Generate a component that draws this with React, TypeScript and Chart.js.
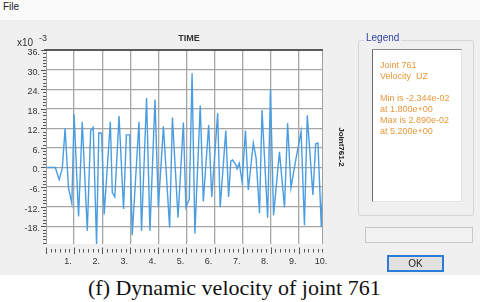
import { useEffect, useRef } from "react";
import { Chart, registerables } from "chart.js";

Chart.register(...registerables);

// Time (s) of each vertex
const times = [
  0, 0.33, 0.47, 0.58, 0.68, 0.8, 0.92, 1.0, 1.16, 1.29, 1.47, 1.59, 1.68, 1.8, 1.88, 1.98,
  2.07, 2.29, 2.36, 2.45, 2.6, 2.76, 2.86, 2.98, 3.07, 3.31, 3.4, 3.58, 3.7, 3.88, 4.0,
  4.18, 4.4, 4.5, 4.7, 4.89, 4.98, 5.1, 5.2, 5.3, 5.49, 5.6, 5.79, 5.9, 6.11, 6.2, 6.4,
  6.5, 6.58, 6.64, 6.76, 6.8, 6.88, 6.98, 7.1, 7.2, 7.38, 7.48, 7.6, 7.69, 7.89, 7.99,
  8.1, 8.31, 8.49, 8.6, 8.72, 8.9, 9.08, 9.2, 9.3, 9.5, 9.6, 9.68, 9.8, 9.86,
];
// Velocity UZ (x10^-3)
const velocity = [
  0, 0, -3.7, -0.2, 12.0, -6.2, -11.0, 16.3, -15.0, 14.0, -19.4, 11.3, 12.3, -23.44, 10.6, 10.5,
  -14.4, 14.0, -7.7, -9.0, 15.8, -12.7, 10.0, 10.0, -20.7, 14.0, -19.4, 21.3, -19.4, 20.8, -12.2,
  12.6, -18.4, 15.3, -15.4, 13.8, -12.2, -9.7, 28.9, -20.2, 19.0, -10.4, 13.0, -9.0, 16.6, -12.2, 11.3,
  -9.0, 2.0, 2.3, 0.8, -0.4, 1.3, -4.4, 11.3, -6.9, 7.5, 2.8, -14.0, 17.6, -15.4, 24.0,
  -14.6, 4.8, -12.2, 13.6, -6.2, 2.8, 11.0, -17.7, 16.0, -8.4, 7.3, 7.5, -18.2, -3.0,
];

const xTickValues = [1, 2, 3, 4, 5, 6, 7, 8, 9, 10];
const yTickValues = [-18, -12, -6, 0, 6, 12, 18, 24, 30, 36];
const xMin = 0;
const xMax = 9.86;
const yMin = -23.44;
const yMax = 36;

const legendLines = [
  "Joint 761",
  "Velocity  UZ",
  "",
  "Min is -2.344e-02",
  "at 1.800e+00",
  "Max is 2.890e-02",
  "at 5.200e+00",
];

const FONT = '"Liberation Sans", Arial, sans-serif';

const framePlugin = {
  id: "frame",
  beforeDraw(chart: any) {
    const { ctx, chartArea: a } = chart;
    ctx.save();
    ctx.fillStyle = "#ffffff";
    ctx.fillRect(a.left, a.top, a.right - a.left, a.bottom - a.top);
    ctx.restore();
  },
  afterDraw(chart: any) {
    const { ctx, chartArea: a, scales } = chart;
    const xs = scales.x;
    const ys = scales.y;
    ctx.save();
    ctx.strokeStyle = "#a0a0a0";
    ctx.lineWidth = 1;
    ctx.beginPath();
    ctx.moveTo(a.left + 0.5, a.top);
    ctx.lineTo(a.left + 0.5, a.bottom);
    ctx.moveTo(a.right - 0.5, a.top);
    ctx.lineTo(a.right - 0.5, a.bottom);
    ctx.stroke();

    ctx.strokeStyle = "#5a5a5a";
    ctx.lineWidth = 2;
    ctx.beginPath();
    ctx.moveTo(a.left - 2, a.top);
    ctx.lineTo(a.right, a.top);
    ctx.stroke();

    ctx.strokeStyle = "#555555";
    ctx.lineWidth = 1;
    ctx.beginPath();
    for (let k = 0; k <= 60; k++) {
      const px = Math.round(xs.getPixelForValue(k / 6)) + 0.5;
      if (px > a.right) break;
      const major = k % 6 === 0;
      ctx.moveTo(px, a.bottom + (major ? 3.5 : 5));
      ctx.lineTo(px, a.bottom + (major ? 10 : 8.5));
    }
    for (let v = Math.ceil(yMin); v <= yMax; v++) {
      const py = Math.round(ys.getPixelForValue(v)) + 0.5;
      const major = v % 6 === 0;
      ctx.moveTo(a.left - (major ? 5 : 3), py);
      ctx.lineTo(a.left, py);
    }
    ctx.stroke();
    ctx.restore();
  },
};

export default function App() {
  const canvasRef = useRef<HTMLCanvasElement | null>(null);

  useEffect(() => {
    document.body.style.margin = "0";
    const canvas = canvasRef.current;
    if (!canvas) return;
    const chart = new Chart(canvas, {
      type: "line",
      data: {
        datasets: [
          {
            data: times.map((t, i) => ({ x: t, y: velocity[i] })),
            borderColor: "#4b9de2",
            borderWidth: 1.4,
            pointRadius: 0,
            tension: 0,
            fill: false,
          },
        ],
      },
      options: {
        animation: false,
        responsive: false,
        maintainAspectRatio: false,
        layout: { padding: { top: 50, right: 27, left: 0, bottom: 0 } },
        plugins: {
          legend: { display: false },
          tooltip: { enabled: false },
          title: { display: false },
        },
        scales: {
          x: {
            type: "linear",
            min: xMin,
            max: xMax,
            afterBuildTicks: (s: any) => {
              s.ticks = xTickValues.map((v) => ({ value: v }));
            },
            afterFit: (s: any) => {
              s.height = 28;
            },
            ticks: {
              autoSkip: false,
              maxRotation: 0,
              padding: 12,
              labelOffset: -6,
              color: "#333333",
              font: { family: FONT, size: 9 },
              callback: (v: any) => `${v}.`,
            },
            grid: {
              drawTicks: false,
              color: (c: any) => (c.tick && c.tick.value < xMax ? "#a6a6a6" : "rgba(0,0,0,0)"),
              lineWidth: 1.3,
            },
            border: { display: false },
          },
          y: {
            type: "linear",
            min: yMin,
            max: yMax,
            afterBuildTicks: (s: any) => {
              s.ticks = yTickValues.map((v) => ({ value: v }));
            },
            afterFit: (s: any) => {
              s.width = 46;
            },
            ticks: {
              padding: 6,
              labelOffset: 2.5,
              color: "#333333",
              font: { family: FONT, size: 9 },
              callback: (v: any) => `${v}.`,
            },
            grid: {
              drawTicks: false,
              color: (c: any) => (c.tick && c.tick.value < yMax ? "#a6a6a6" : "rgba(0,0,0,0)"),
              lineWidth: 1.3,
            },
            border: { display: false },
          },
        },
      },
      plugins: [framePlugin],
    } as any);
    return () => chart.destroy();
  }, []);

  const abs = (o: any) => ({ position: "absolute", ...o } as any);

  return (
    <div
      style={{
        position: "relative",
        width: 480,
        height: 302,
        background: "#f0f0f0",
        overflow: "hidden",
        fontFamily: FONT,
      }}
    >
      <div style={abs({ left: 0, top: 0, width: 480, height: 20, background: "#fbfbfb" })} />
      <div style={abs({ left: 3, top: 1, fontSize: 10, lineHeight: "12px", color: "#222" })}>File</div>

      <canvas ref={canvasRef} width={350} height={272} style={abs({ left: 0, top: 0 })} />

      <div style={abs({ left: 17, top: 37, fontSize: 10, lineHeight: "11px", color: "#333" })}>x10</div>
      <div style={abs({ left: 39, top: 33, fontSize: 9, lineHeight: "10px", color: "#333" })}>-3</div>
      <div
        style={abs({
          left: 169,
          top: 33,
          width: 40,
          textAlign: "center",
          fontSize: 9,
          fontWeight: "bold",
          lineHeight: "11px",
          color: "#333",
        })}
      >
        TIME
      </div>
      <div
        style={abs({
          left: 311,
          top: 142,
          width: 60,
          textAlign: "center",
          fontSize: 8,
          fontWeight: "bold",
          lineHeight: "10px",
          color: "#222",
          transform: "rotate(90deg)",
          whiteSpace: "nowrap",
        })}
      >
        Joint761-2
      </div>

      <div
        style={abs({
          left: 358,
          top: 40,
          width: 116,
          height: 176,
          border: "1px solid #d6d6d6",
          borderRadius: 2,
          boxSizing: "border-box",
        })}
      />
      <div
        style={abs({
          left: 364,
          top: 32,
          padding: "0 2px",
          background: "#f0f0f0",
          color: "#2d3f9e",
          fontSize: 10,
          lineHeight: "11px",
        })}
      >
        Legend
      </div>
      <div
        style={abs({
          left: 372,
          top: 49,
          width: 90,
          height: 153,
          background: "#ffffff",
          borderLeft: "1px solid #6b6b6b",
          borderTop: "1px solid #8a8a8a",
          borderRight: "1px solid #e4e4e4",
          borderBottom: "1px solid #e4e4e4",
          boxSizing: "border-box",
        })}
      />
      <div style={abs({ left: 380, top: 59.5, color: "#e8983a", fontSize: 9, lineHeight: "11px", whiteSpace: "pre" })}>
        {legendLines.map((l, i) => (
          <div key={i} style={{ height: 11 }}>
            {l}
          </div>
        ))}
      </div>

      <div
        style={abs({
          left: 365,
          top: 227,
          width: 108,
          height: 16,
          border: "1px solid #c8c8c8",
          background: "#f2f2f2",
          boxSizing: "border-box",
        })}
      />
      <div
        style={abs({
          left: 387,
          top: 255,
          width: 57,
          height: 17,
          border: "2px solid #2b7bd8",
          background: "#e1e1e1",
          boxSizing: "border-box",
          textAlign: "center",
          fontSize: 10,
          lineHeight: "13px",
          color: "#222",
        })}
      >
        OK
      </div>

      <div style={abs({ left: 0, top: 275, width: 480, height: 27, background: "#ffffff" })} />
      <div
        style={abs({
          left: 88,
          top: 275,
          fontFamily: '"Liberation Serif", "Times New Roman", serif',
          fontSize: 22,
          lineHeight: "25px",
          color: "#111",
          whiteSpace: "nowrap",
        })}
      >
        (f) Dynamic velocity of joint 761
      </div>
    </div>
  );
}
